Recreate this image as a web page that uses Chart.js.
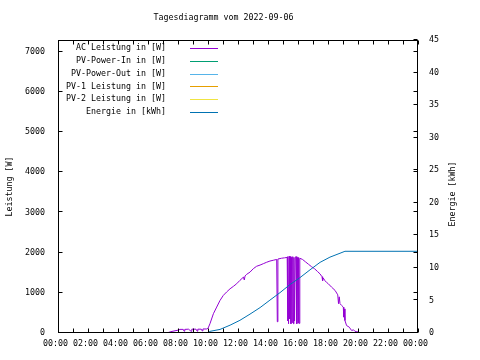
<!DOCTYPE html>
<html><head><meta charset="utf-8">
<script src="https://cdn.jsdelivr.net/npm/chart.js@4/dist/chart.umd.min.js"></script>
<style>html,body{margin:0;padding:0;background:#fff;}canvas{display:block;}</style>
</head><body>
<canvas id="c" width="480" height="360"></canvas>
<script>
const chartTitle = 'Tagesdiagramm vom 2022-09-06';
const leftAxisTitle = 'Leistung [W]';
const rightAxisTitle = 'Energie [kWh]';
const seriesNames = ['AC Leistung in [W]', 'PV-Power-In in [W]', 'PV-Power-Out in [W]', 'PV-1 Leistung in [W]', 'PV-2 Leistung in [W]', 'Energie in [kWh]'];
const seriesColors = ['#9400d3', '#009e73', '#56b4e9', '#e69f00', '#f0e442', '#0072b2'];

// AC Leistung (hour of day, watts)
const acHours = [7.33,7.6,7.8,8.0,8.13,8.35,8.4,8.45,8.7,8.88,8.92,9.2,9.28,9.32,9.55,9.62,9.66,9.91,10.0,10.13,10.36,10.58,10.8,11.02,11.24,11.47,11.69,11.91,12.13,12.36,12.42,12.47,12.58,12.8,13.02,13.24,13.47,13.69,13.91,14.13,14.35,14.58,14.62,14.66,14.9,15.1,15.28,15.3,15.33,15.37,15.41,15.45,15.49,15.53,15.57,15.61,15.65,15.7,15.73,15.77,15.82,15.88,15.92,15.96,16.0,16.04,16.07,16.12,16.3,16.5,16.7,16.9,17.1,17.3,17.47,17.6,17.64,17.68,17.8,17.9,18.02,18.24,18.47,18.65,18.7,18.75,18.8,18.91,19.02,19.05,19.08,19.13,19.24,19.42,19.5,19.58,19.7,19.8,19.91,20.02];
const acWatts = [10,40,55,70,90,90,45,90,95,40,95,95,45,95,95,50,100,100,115,230,480,645,810,935,1020,1100,1160,1225,1310,1390,1320,1420,1460,1515,1600,1660,1690,1725,1760,1790,1810,1830,280,1840,1860,1870,1880,300,1900,230,1910,350,1900,230,1880,260,1900,230,1880,300,1890,1900,230,1880,250,1880,240,1860,1830,1770,1710,1650,1600,1530,1470,1400,1300,1370,1300,1260,1225,1140,1060,950,730,900,730,685,645,395,600,310,185,145,100,62,80,40,37,20];
// PV series (no visible data in the picture)
const pvInHours = [], pvInWatts = [];
const pvOutHours = [], pvOutWatts = [];
const pv1Hours = [], pv1Watts = [];
const pv2Hours = [], pv2Watts = [];
// Energie (hour of day, kWh)
const energyHours = [8.6,10.0,10.13,10.8,11.47,12.13,12.8,13.47,14.13,14.8,15.47,16.13,16.8,17.47,18.13,18.8,19.13,24];
const energyKWh = [0,0,0.25,0.55,1.2,1.95,2.9,3.9,5.05,6.2,7.45,8.5,9.7,10.85,11.65,12.25,12.55,12.55];

const hourTicks = [0,1,2,3,4,5,6,7,8,9,10,11,12,13,14,15,16,17,18,19,20,21,22,23,24];
const xTickLabels = ['00:00','','02:00','','04:00','','06:00','','08:00','','10:00','','12:00','','14:00','','16:00','','18:00','','20:00','','22:00','','00:00'];
const leftTicks = [0,1000,2000,3000,4000,5000,6000,7000];
const rightTicks = [0,5,10,15,20,25,30,35,40,45];

const pts = (xs, ys) => xs.map((x, i) => ({x, y: ys[i]}));
const FONT = '"DejaVu Sans Mono", monospace';
Chart.defaults.font.family = FONT;
Chart.defaults.font.size = 8.3;
Chart.defaults.color = '#000';

const seriesData = [
  [pts(acHours, acWatts), 'y'],
  [pts(pvInHours, pvInWatts), 'y'],
  [pts(pvOutHours, pvOutWatts), 'y'],
  [pts(pv1Hours, pv1Watts), 'y'],
  [pts(pv2Hours, pv2Watts), 'y'],
  [pts(energyHours, energyKWh), 'y2']
];
const datasets = seriesData.map((s, i) => ({
  label: seriesNames[i], data: s[0], yAxisID: s[1],
  borderColor: seriesColors[i], backgroundColor: seriesColors[i],
  borderWidth: 1, pointRadius: 0, tension: 0, fill: false,
  order: i === 5 ? -1 : i
}));

const frame = {
  id: 'frame',
  afterDraw(chart) {
    const {ctx, chartArea: a, scales} = chart;
    ctx.save();
    ctx.strokeStyle = '#000'; ctx.lineWidth = 1;
    const L = Math.round(a.left) + 0.5, R = Math.round(a.right) - 0.5;
    const T = Math.round(a.top) + 0.5, B = Math.round(a.bottom) - 0.5;
    ctx.strokeRect(L, T, R - L, B - T);
    const tl = 4;
    ctx.beginPath();
    scales.x.ticks.forEach(t => {
      const px = Math.round(scales.x.getPixelForValue(t.value)) + 0.5;
      ctx.moveTo(px, B); ctx.lineTo(px, B - tl);
      ctx.moveTo(px, T); ctx.lineTo(px, T + tl);
    });
    scales.y.ticks.forEach(t => {
      const py = Math.round(scales.y.getPixelForValue(t.value)) - 0.5;
      ctx.moveTo(L, py); ctx.lineTo(L + tl, py);
      ctx.moveTo(R, py); ctx.lineTo(R - tl, py);
    });
    scales.y2.ticks.forEach(t => {
      const py = Math.round(scales.y2.getPixelForValue(t.value)) - 0.5;
      ctx.moveTo(R, py); ctx.lineTo(R - tl, py);
    });
    ctx.stroke();
    ctx.font = '8.3px ' + FONT;
    ctx.fillStyle = '#000';
    // title
    ctx.textAlign = 'center'; ctx.textBaseline = 'middle';
    ctx.fillText(chartTitle, 223.5, 18);
    // legend
    ctx.textAlign = 'right';
    chart.data.datasets.forEach((ds, i) => {
      const y = 48.3 + i * 12.7;
      ctx.fillStyle = '#000';
      ctx.fillText(ds.label, 166, y);
      ctx.beginPath();
      ctx.strokeStyle = ds.borderColor;
      ctx.moveTo(190, Math.round(y) + 0.5); ctx.lineTo(218, Math.round(y) + 0.5);
      ctx.stroke();
    });
    // right axis title (reads bottom to top)
    ctx.save();
    ctx.translate(453, 194);
    ctx.rotate(-Math.PI / 2);
    ctx.textAlign = 'center'; ctx.textBaseline = 'middle';
    ctx.fillStyle = '#000';
    ctx.fillText(rightAxisTitle, 0, 0);
    ctx.restore();
    ctx.restore();
  }
};

new Chart(document.getElementById('c'), {
  type: 'line',
  data: { datasets },
  plugins: [frame],
  options: {
    responsive: false, animation: false, devicePixelRatio: 1,
    layout: { padding: { top: 40, left: 0, right: 0, bottom: 0 } },
    plugins: {
      legend: { display: false }, tooltip: { enabled: false }, title: { display: false }
    },
    scales: {
      x: {
        type: 'linear', min: 0, max: 24,
        afterBuildTicks: s => { s.ticks = hourTicks.map(v => ({value: v})); },
        afterFit: s => { s.height = 27; },
        grid: { display: false, drawTicks: false }, border: { display: false },
        ticks: { autoSkip: false, maxRotation: 0, padding: 6, labelOffset: -2.5,
          callback: (v) => xTickLabels[hourTicks.indexOf(v)] ?? '' }
      },
      y: {
        type: 'linear', position: 'left', min: 0, max: 7290,
        afterBuildTicks: s => { s.ticks = leftTicks.map(v => ({value: v})); },
        afterFit: s => { s.width = 58; },
        grid: { display: false, drawTicks: false }, border: { display: false },
        ticks: { padding: 13, callback: v => String(v) },
        title: { display: true, text: leftAxisTitle, font: { size: 8.3, family: FONT }, color: '#000', padding: { top: 5, bottom: 0 } }
      },
      y2: {
        type: 'linear', position: 'right', min: 0, max: 45,
        afterBuildTicks: s => { s.ticks = rightTicks.map(v => ({value: v})); },
        afterFit: s => { s.width = 62; },
        grid: { display: false, drawTicks: false }, border: { display: false },
        ticks: { padding: 11, callback: v => String(v) }
      }
    }
  }
});
</script>
</body></html>
